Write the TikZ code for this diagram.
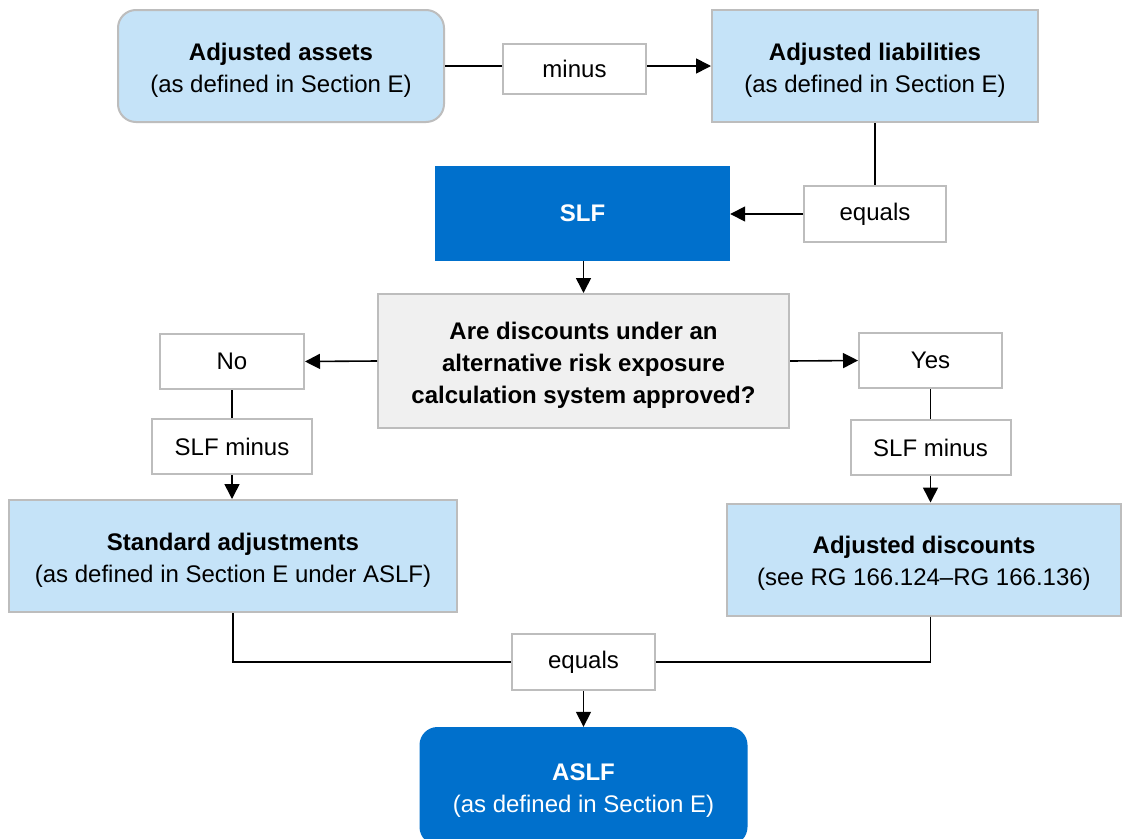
\documentclass[tikz,border=0pt]{standalone}
\usepackage{fontspec}
\setmainfont{Liberation Sans}
\usetikzlibrary{arrows.meta}
\definecolor{lightbox}{HTML}{C5E3F8}
\definecolor{darkbox}{HTML}{0070CC}
\definecolor{qfill}{HTML}{F0F0F0}
\definecolor{edgegray}{HTML}{BDBDBD}
\newcommand\mystrut{\rule{0pt}{25pt}}
\tikzset{
  base/.style={inner sep=0pt,align=center,font=\fontsize{24}{32}\selectfont},
  lbox/.style={base,draw=edgegray,line width=2pt,fill=lightbox,minimum width=326pt,minimum height=112pt},
  dbox/.style={base,fill=darkbox,text=white},
  wbox/.style={base,draw=edgegray,line width=2pt,fill=white,minimum height=55pt},
  qbox/.style={base,draw=edgegray,line width=2pt,fill=qfill},
  conn/.style={line width=1.6pt,black},
  arr/.style={conn,-{Triangle[length=15pt,width=15pt]}}
}
\begin{document}
\begin{tikzpicture}[x=1pt,y=-1pt]
\useasboundingbox (0,0) rectangle (1123,838);
\clip (0,0) rectangle (1123,838);
\fill[white] (0,0) rectangle (1123,838);

\node[lbox,rounded corners=18pt] (assets) at (281,66) {\mystrut\textbf{Adjusted assets}\\(as defined in Section E)};
\node[wbox,minimum width=143pt,minimum height=50pt] (minus) at (574.5,69) {minus};
\node[lbox] (liab) at (875,66) {\mystrut\textbf{Adjusted liabilities}\\(as defined in Section E)};
\node[dbox,minimum width=295pt,minimum height=95pt] (slf) at (582.5,213.5) {\textbf{SLF}};
\node[wbox,minimum width=142pt,minimum height=56pt] (eq1) at (875,214) {equals};
\node[qbox,minimum width=411pt,minimum height=134pt] (q) at (583.5,361) {\mystrut\textbf{Are discounts under an}\\\textbf{alternative risk exposure}\\\textbf{calculation system approved?}};
\node[wbox,minimum width=144pt] (no) at (232,361.5) {No};
\node[wbox,minimum width=143pt] (yes) at (930.5,360.5) {Yes};
\node[wbox,minimum width=160pt] (m1) at (232,446.5) {SLF minus};
\node[wbox,minimum width=160pt] (m2) at (930.5,447.5) {SLF minus};
\node[lbox,minimum width=448pt] (std) at (233,556) {\mystrut\textbf{Standard adjustments}\\(as defined in Section E under ASLF)};
\node[lbox,minimum width=394pt] (adisc) at (924,559.5) {\mystrut\textbf{Adjusted discounts}\\(see RG 166.124–RG 166.136)};
\node[wbox,minimum width=143pt,minimum height=56pt] (eq2) at (583.5,662) {equals};
\node[dbox,rounded corners=18pt,minimum width=328pt,minimum height=118pt] (aslf) at (583.5,786) {\mystrut\textbf{ASLF}\\(as defined in Section E)};

\draw[conn] (assets.east) -- (assets.east -| minus.west);
\draw[arr] (minus.east |- assets.east) -- (liab.west);
\draw[conn] (liab.south) -- (eq1.north);
\draw[arr] (eq1.west) -- (slf.east |- eq1.west);
\draw[arr] (slf.south -| q.north) -- (q.north);
\draw[arr] (q.west) -- (no.east);
\draw[arr] (q.east) -- (yes.west);
\draw[conn] (no.south) -- (m1.north);
\draw[arr] (m1.south) -- (std.north -| m1.south);
\draw[conn] (yes.south) -- (m2.north);
\draw[arr] (m2.south) -- (adisc.north -| m2.south);
\draw[conn] (std.south) |- (eq2.west);
\draw[conn] (adisc.south -| m2.south) |- (eq2.east);
\draw[arr] (eq2.south) -- (aslf.north);
\end{tikzpicture}
\end{document}
